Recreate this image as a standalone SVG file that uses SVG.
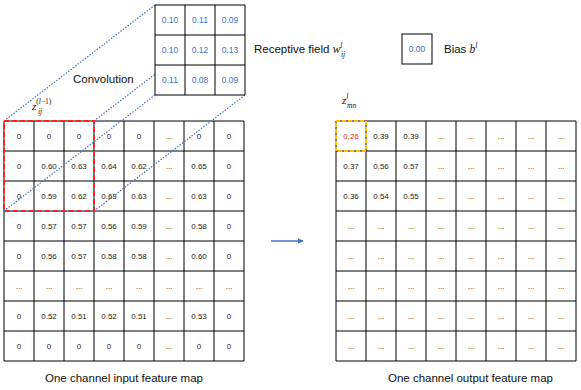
<svg xmlns="http://www.w3.org/2000/svg" width="581" height="390" viewBox="0 0 581 390">
<style>
.grid{fill:none;stroke:#000;stroke-width:1}
.cell{fill:#fff;stroke:#000;stroke-width:1}
.n{font-family:"Liberation Sans",Arial,sans-serif;font-size:8px;fill:#222;text-anchor:middle}
.k{font-family:"Liberation Sans",Arial,sans-serif;font-size:8.5px;fill:#4472C4;text-anchor:middle}
.lbl{font-family:"Liberation Sans",Arial,sans-serif;font-size:11.5px;fill:#111}
.m{font-family:"Liberation Serif","Times New Roman",serif;font-style:italic;fill:#111}
.dot{stroke:#4472C4;stroke-width:1.2;stroke-dasharray:1.5 1.5;fill:none}
</style>
<defs>
<marker id="ah" viewBox="0 0 10 10" refX="9" refY="5" markerWidth="6" markerHeight="6" orient="auto" markerUnits="userSpaceOnUse">
<path d="M0,0 L10,5 L0,10 z" fill="#4472C4"/>
</marker>
</defs>
<rect width="581" height="390" fill="#fff"/>

<g id="input-map">
<rect x="4" y="121" width="240" height="240" fill="#fff"/>
<path class="grid" d="M4,121V361M34,121V361M64,121V361M94,121V361M124,121V361M154,121V361M184,121V361M214,121V361M244,121V361M4,121H244M4,151H244M4,181H244M4,211H244M4,241H244M4,271H244M4,301H244M4,331H244M4,361H244"/>
<g class="n">
<text x="19" y="139">0</text><text x="49" y="139">0</text><text x="79" y="139">0</text><text x="109" y="139">0</text><text x="139" y="139">0</text><text x="169" y="139">...</text><text x="199" y="139">0</text><text x="229" y="139">0</text>
<text x="19" y="169">0</text><text x="49" y="169">0.60</text><text x="79" y="169">0.63</text><text x="109" y="169">0.64</text><text x="139" y="169">0.62</text><text x="169" y="169">...</text><text x="199" y="169">0.65</text><text x="229" y="169">0</text>
<text x="19" y="199">0</text><text x="49" y="199">0.59</text><text x="79" y="199">0.62</text><text x="109" y="199">0.63</text><text x="139" y="199">0.63</text><text x="169" y="199">...</text><text x="199" y="199">0.63</text><text x="229" y="199">0</text>
<text x="19" y="229">0</text><text x="49" y="229">0.57</text><text x="79" y="229">0.57</text><text x="109" y="229">0.56</text><text x="139" y="229">0.59</text><text x="169" y="229">...</text><text x="199" y="229">0.58</text><text x="229" y="229">0</text>
<text x="19" y="259">0</text><text x="49" y="259">0.56</text><text x="79" y="259">0.57</text><text x="109" y="259">0.58</text><text x="139" y="259">0.58</text><text x="169" y="259">...</text><text x="199" y="259">0.60</text><text x="229" y="259">0</text>
<text x="19" y="289">...</text><text x="49" y="289">...</text><text x="79" y="289">...</text><text x="109" y="289">...</text><text x="139" y="289">...</text><text x="169" y="289">...</text><text x="199" y="289">...</text><text x="229" y="289">...</text>
<text x="19" y="319">0</text><text x="49" y="319">0.52</text><text x="79" y="319">0.51</text><text x="109" y="319">0.52</text><text x="139" y="319">0.51</text><text x="169" y="319">...</text><text x="199" y="319">0.53</text><text x="229" y="319">0</text>
<text x="19" y="349">0</text><text x="49" y="349">0</text><text x="79" y="349">0</text><text x="109" y="349">0</text><text x="139" y="349">0</text><text x="169" y="349">...</text><text x="199" y="349">0</text><text x="229" y="349">0</text>
</g>
<text class="m" x="32" y="110" font-size="11" fill="#111">z<tspan font-size="7.5" dy="-6" font-style="normal" fill="#111">(</tspan><tspan font-size="7.5" fill="#111">l</tspan><tspan font-size="7.5" font-style="normal" fill="#111">−1)</tspan><tspan font-size="7.5" x="38" dy="10" fill="#111">ij</tspan></text>
<text class="lbl" x="124" y="382" text-anchor="middle">One channel input feature map</text>
</g>

<g id="output-map">
<rect x="336" y="121" width="240" height="240" fill="#fff"/>
<path class="grid" d="M336,121V361M366,121V361M396,121V361M426,121V361M456,121V361M486,121V361M516,121V361M546,121V361M576,121V361M336,121H576M336,151H576M336,181H576M336,211H576M336,241H576M336,271H576M336,301H576M336,331H576M336,361H576"/>
<g class="n">
<text x="351" y="139" style="fill:#E0262B">0.26</text><text x="381" y="139">0.39</text><text x="411" y="139">0.39</text><text x="441" y="139">...</text><text x="471" y="139">...</text><text x="501" y="139">...</text><text x="531" y="139">...</text><text x="561" y="139">...</text>
<text x="351" y="169">0.37</text><text x="381" y="169">0.56</text><text x="411" y="169">0.57</text><text x="441" y="169">...</text><text x="471" y="169">...</text><text x="501" y="169">...</text><text x="531" y="169">...</text><text x="561" y="169">...</text>
<text x="351" y="199">0.36</text><text x="381" y="199">0.54</text><text x="411" y="199">0.55</text><text x="441" y="199">...</text><text x="471" y="199">...</text><text x="501" y="199">...</text><text x="531" y="199">...</text><text x="561" y="199">...</text>
<text x="351" y="229">...</text><text x="381" y="229">...</text><text x="411" y="229">...</text><text x="441" y="229">...</text><text x="471" y="229">...</text><text x="501" y="229">...</text><text x="531" y="229">...</text><text x="561" y="229">...</text>
<text x="351" y="259">...</text><text x="381" y="259">...</text><text x="411" y="259">...</text><text x="441" y="259">...</text><text x="471" y="259">...</text><text x="501" y="259">...</text><text x="531" y="259">...</text><text x="561" y="259">...</text>
<text x="351" y="289">...</text><text x="381" y="289">...</text><text x="411" y="289">...</text><text x="441" y="289">...</text><text x="471" y="289">...</text><text x="501" y="289">...</text><text x="531" y="289">...</text><text x="561" y="289">...</text>
<text x="351" y="319">...</text><text x="381" y="319">...</text><text x="411" y="319">...</text><text x="441" y="319">...</text><text x="471" y="319">...</text><text x="501" y="319">...</text><text x="531" y="319">...</text><text x="561" y="319">...</text>
<text x="351" y="349">...</text><text x="381" y="349">...</text><text x="411" y="349">...</text><text x="441" y="349">...</text><text x="471" y="349">...</text><text x="501" y="349">...</text><text x="531" y="349">...</text><text x="561" y="349">...</text>
</g>
<rect x="336" y="121" width="30" height="30" fill="none" stroke="#FFC000" stroke-width="2" stroke-dasharray="4 2"/>
<text class="m" x="342" y="104" font-size="11" fill="#111">z<tspan font-size="7.5" dy="-5" fill="#111">l</tspan><tspan font-size="7.5" x="347" dy="8.5" fill="#111">mn</tspan></text>
<text class="lbl" x="388" y="382">One channel output feature map</text>
</g>

<g id="connectors">
<line class="dot" x1="155" y1="5" x2="4" y2="121"/>
<line class="dot" x1="245" y1="5" x2="94" y2="121"/>
<line class="dot" x1="155" y1="95" x2="4" y2="211"/>
<line class="dot" x1="245" y1="95" x2="94" y2="211"/>
<line x1="271" y1="241" x2="303" y2="241" stroke="#4472C4" stroke-width="1.5" marker-end="url(#ah)"/>
</g>

<g id="selection">
<rect x="4" y="121" width="90" height="90" fill="none" stroke="#FF2020" stroke-width="2" stroke-dasharray="5 3"/>
</g>

<g id="kernel">
<rect x="155" y="5" width="90" height="90" fill="#fff"/>
<path class="grid" d="M155,5V95M185,5V95M215,5V95M245,5V95M155,5H245M155,35H245M155,65H245M155,95H245"/>
<g class="k">
<text x="170" y="23">0.10</text><text x="200" y="23">0.11</text><text x="230" y="23">0.09</text>
<text x="170" y="53">0.10</text><text x="200" y="53">0.12</text><text x="230" y="53">0.13</text>
<text x="170" y="83">0.11</text><text x="200" y="83">0.08</text><text x="230" y="83">0.09</text>
</g>
<text class="lbl" x="254" y="53">Receptive field <tspan class="m" font-size="11.5" fill="#111">w</tspan><tspan class="m" font-size="7.5" dy="-5" fill="#111">l</tspan><tspan class="m" font-size="7.5" x="341" dy="8.5" fill="#111">ij</tspan></text>
</g>

<g id="bias">
<rect class="cell" x="402" y="34" width="30" height="30"/>
<text class="k" x="417" y="52">0.00</text>
<text class="lbl" x="444" y="53">Bias <tspan class="m" font-size="11.5" fill="#111">b</tspan><tspan class="m" font-size="7.5" dy="-5" fill="#111">l</tspan></text>
</g>

<g id="conv-label">
<text class="lbl" x="73" y="83">Convolution</text>
</g>
</svg>
